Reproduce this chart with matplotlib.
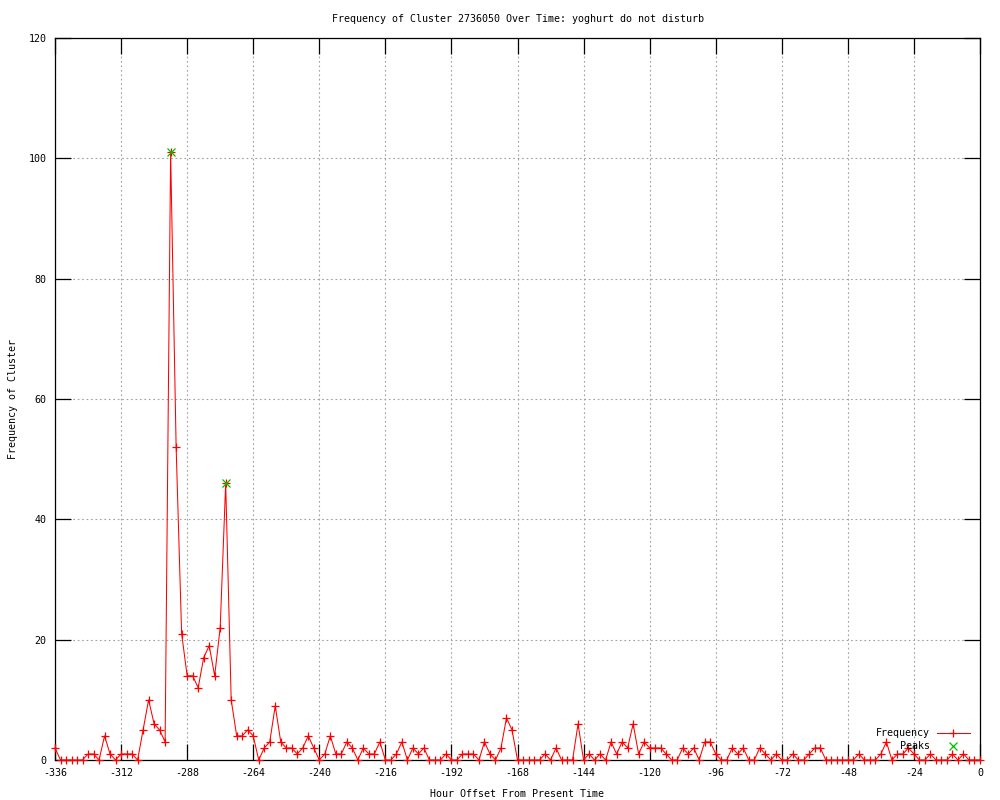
#!/usr/bin/env python3
"""Frequency of one cluster over time, gnuplot look-alike."""

import matplotlib
matplotlib.use("Agg")
import matplotlib.pyplot as plt

TITLE = "Frequency of Cluster 2736050 Over Time: yoghurt do not disturb"
XLABEL = "Hour Offset From Present Time"
YLABEL = "Frequency of Cluster"

# one point every 2 hours, -336 .. 0
HOURS = list(range(-336, 1, 2))
FREQ = [
    2, 0, 0, 0, 0, 0, 1, 1, 0, 4, 1, 0, 1, 1, 1, 0,          # -336 .. -306
    5, 10, 6, 5, 3, 101, 52, 21, 14, 14, 12, 17, 19, 14, 22,  # -304 .. -276
    46, 10, 4, 4, 5, 4, 0, 2, 3, 9, 3, 2, 2, 1, 2, 4, 2,      # -274 .. -242
    0, 1, 4, 1, 1, 3, 2, 0, 2, 1, 1, 3, 0, 0, 1, 3, 0,        # -240 .. -208
    2, 1, 2, 0, 0, 0, 1, 0, 0, 1, 1, 1, 0, 3, 1, 0, 2,        # -206 .. -174
    7, 5, 0, 0, 0, 0, 0, 1, 0, 2, 0, 0, 0, 6, 0, 1, 0,        # -172 .. -140
    1, 0, 3, 1, 3, 2, 6, 1, 3, 2, 2, 2, 1, 0, 0, 2, 1,        # -138 .. -106
    2, 0, 3, 3, 1, 0, 0, 2, 1, 2, 0, 0, 2, 1, 0, 1, 0,        # -104 .. -72
    0, 1, 0, 0, 1, 2, 2, 0, 0, 0, 0, 0, 0, 1, 0, 0, 0,        # -70 .. -38
    1, 3, 0, 1, 1, 2, 1, 0, 0, 1, 0, 0, 0, 1, 0, 1, 0,        # -36 .. -4
    0, 0,                                                     # -2, 0
]
PEAK_HOURS = [-294, -274]
PEAK_FREQ = [101, 46]

XTICKS = list(range(-336, 1, 24))
YTICKS = list(range(0, 121, 20))

LINE_RED = "#ff0000"
PEAK_GREEN = "#00c000"
GRID_GRAY = "#a0a0a0"
FONT = "DejaVu Sans Mono"
FS = 7.2
MS = 6.3

plt.rcParams.update({
    "font.family": FONT,
    "font.size": FS,
    "axes.unicode_minus": False,
})

fig = plt.figure(figsize=(10, 8), dpi=100)
ax = fig.add_axes([0.055, 0.05, 0.925, 0.9025])

ax.plot(HOURS, FREQ, color=LINE_RED, linewidth=0.75, marker="+",
        markersize=MS, markeredgewidth=0.9, clip_on=False, zorder=3)
ax.plot(PEAK_HOURS, PEAK_FREQ, linestyle="none", color=PEAK_GREEN,
        marker="x", markersize=5.5, markeredgewidth=0.9, clip_on=False, zorder=4)

ax.set_xlim(-336, 0)
ax.set_ylim(0, 120)
ax.set_xticks(XTICKS)
ax.set_yticks(YTICKS)
ax.tick_params(direction="in", length=11.5, width=0.9, top=True, right=True,
               labelsize=FS, pad=6, colors="black")
for s in ax.spines.values():
    s.set_linewidth(0.9)
ax.grid(True, color=GRID_GRAY, linewidth=0.8, linestyle=(0, (1.5, 2.5)))
ax.set_axisbelow(True)

ax.set_title(TITLE, fontsize=FS, pad=11.5)
ax.set_xlabel(XLABEL, fontsize=FS, labelpad=8)
ax.set_ylabel(YLABEL, fontsize=FS, labelpad=8)

# gnuplot style key, bottom right, text right-aligned before the sample
tr = ax.transAxes
ax.text(0.946, 0.0374, "Frequency", transform=tr, ha="right", va="center")
ax.plot([0.9535, 0.989], [0.0374, 0.0374], transform=tr, color=LINE_RED,
        linewidth=0.75, clip_on=False)
ax.plot([0.971], [0.0374], transform=tr, color=LINE_RED, marker="+",
        markersize=MS, markeredgewidth=0.9, clip_on=False)
ax.text(0.946, 0.0194, "Peaks", transform=tr, ha="right", va="center")
ax.plot([0.971], [0.0194], transform=tr, color=PEAK_GREEN, marker="x",
        markersize=5.5, markeredgewidth=0.9, clip_on=False)

fig.savefig("out.png", dpi=100, facecolor="white")
